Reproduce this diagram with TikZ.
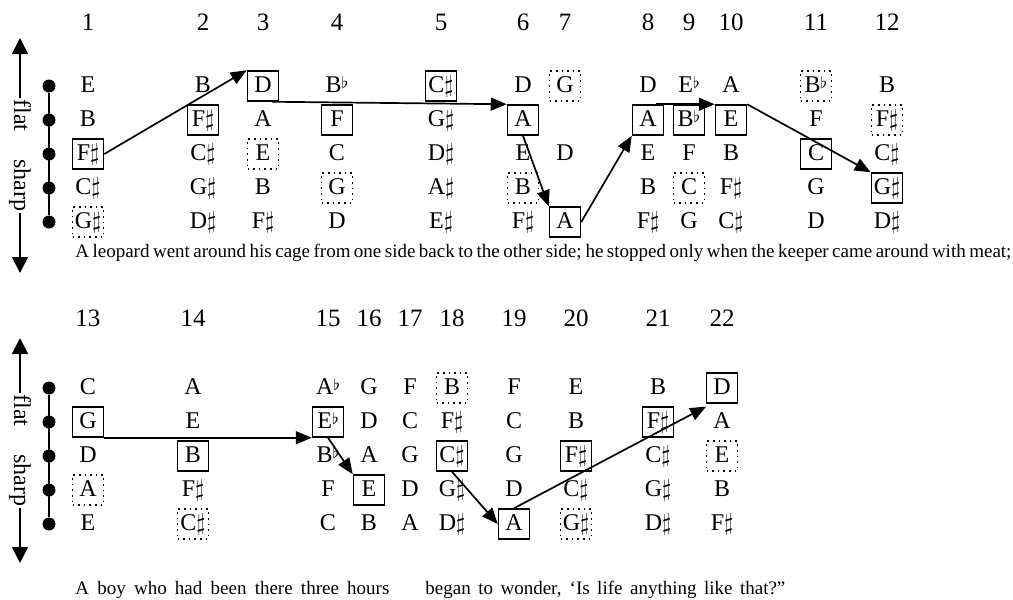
\documentclass[tikz,border=0pt]{standalone}
\usepackage{fontspec}
\setmainfont{Liberation Serif}
\usetikzlibrary{arrows.meta}
\newcommand{\shp}{$\sharp$}
\newcommand{\flt}{\raisebox{0.35ex}{$\scriptstyle\flat$}}
\tikzset{
  note/.style={inner sep=1pt, minimum width=15.5pt, minimum height=15pt, text height=8pt, text depth=1.5pt, font=\fontsize{12}{14}\selectfont},
  notebox/.style={note, draw, line width=0.75pt},
  notedot/.style={note, draw, dotted, line width=0.8pt},
  colnum/.style={font=\fontsize{12.5}{14}\selectfont},
  dot/.style={circle, fill, inner sep=0pt, minimum size=6.5pt},
  arr/.style={-{Triangle[length=8pt,width=6.5pt]}, line width=0.85pt},
  bigarr/.style={{Triangle[length=8pt,width=8pt]}-{Triangle[length=8pt,width=8pt]}, line width=0.85pt},
  sidelab/.style={fill=white, rotate=-90, inner sep=1pt, font=\fontsize{12}{14}\selectfont},
  words/.style={anchor=west, inner sep=0pt, font=\fontsize{9.5}{11}\selectfont}
}
\begin{document}
\begin{tikzpicture}[x=0.5pt,y=-0.5pt]
  \useasboundingbox (0,0) rectangle (1013,600);
  % upper system
  \foreach \x/\num/\col in {
      88/1/{E/note,B/note,F\shp/notebox,C\shp/note,G\shp/notedot},
      203/2/{B/note,F\shp/notebox,C\shp/note,G\shp/note,D\shp/note},
      263/3/{D/notebox,A/note,E/notedot,B/note,F\shp/note},
      337/4/{B\flt/note,F/notebox,C/note,G/notedot,D/note},
      441/5/{C\shp/notebox,G\shp/note,D\shp/note,A\shp/note,E\shp/note},
      523/6/{D/note,A/notebox,E/note,B/notedot,F\shp/note},
      648/8/{D/note,A/notebox,E/note,B/note,F\shp/note},
      689/9/{E\flt/note,B\flt/notebox,F/note,C/notedot,G/note},
      731/10/{A/note,E/notebox,B/note,F\shp/note,C\shp/note},
      816/11/{B\flt/notedot,F/note,C/notebox,G/note,D/note},
      887/12/{B/note,F\shp/notedot,C\shp/note,G\shp/notebox,D\shp/note}}
  {
    \node[colnum] (num\num) at (\x,22) {\num};
    \foreach \lab/\sty [count=\r] in \col
      \node[\sty] (c\num r\r) at (\x,52+34*\r) {\lab};
  }
  \node[colnum] (num7) at (565,22) {7};
  \node[notedot] (c7r1) at (565,86) {G};
  \node[note] (c7r3) at (565,154) {D};
  \node[notebox] (c7r5) at (565,222) {A};

  \foreach \r in {1,...,5}
    \node[dot] (t\r) at (49,52+34*\r) {};
  \draw [line width=0.85pt] (t1) -- (t5);
  \coordinate (tup) at (20,38);
  \coordinate (tdown) at (20,273);
  \draw [bigarr] (tup) -- node[sidelab] {flat\hspace{14pt}sharp} (tdown);

  \draw [arr] (c1r3.east) -- (c3r1.north west);
  \draw [arr] ([xshift=-3.5pt]c3r1.south east) -- (c6r2.north west);
  \draw [arr] (c6r2.south) -- (c7r5.north west);
  \draw [arr] (c7r5.east) -- (c8r2.south west);
  \draw [arr] ([xshift=-4pt]c8r2.north east) -- (c10r2.north west);
  \draw [arr] (c10r2.north east) -- (c12r4.north west);

  \node[words] (line1) at (75,253) {\makebox[468pt][s]{A leopard went around his cage from one side back to the other side; he stopped only when the keeper came around with meat;}};

  % lower system
  \foreach \x/\num/\col in {
      88/13/{C/note,G/notebox,D/note,A/notedot,E/note},
      193/14/{A/note,E/note,B/notebox,F\shp/note,C\shp/notedot},
      328/15/{A\flt/note,E\flt/notebox,B\flt/note,F/note,C/note},
      369/16/{G/note,D/note,A/note,E/notebox,B/note},
      410/17/{F/note,C/note,G/note,D/note,A/note},
      452/18/{B/notedot,F\shp/note,C\shp/notebox,G\shp/note,D\shp/note},
      514/19/{F/note,C/note,G/note,D/note,A/notebox},
      576/20/{E/note,B/note,F\shp/notebox,C\shp/note,G\shp/notedot},
      658/21/{B/note,F\shp/notebox,C\shp/note,G\shp/note,D\shp/note},
      722/22/{D/notebox,A/note,E/notedot,B/note,F\shp/note}}
  {
    \node[colnum] (num\num) at (\x,318) {\num};
    \foreach \lab/\sty [count=\r] in \col
      \node[\sty] (c\num r\r) at (\x,354+34*\r) {\lab};
  }

  \foreach \r in {1,...,5}
    \node[dot] (b\r) at (49,354+34*\r) {};
  \draw [line width=0.85pt] (b1) -- (b5);
  \coordinate (bup) at (20,338);
  \coordinate (bdown) at (20,563);
  \draw [bigarr] (bup) -- node[sidelab] {flat\hspace{14pt}sharp} (bdown);

  \draw [arr] (c13r2.south east) -- (c15r2.south west);
  \draw [arr] (c15r2.south) -- (c16r4.north west);
  \draw [arr] (c18r3.south) -- (c19r5.west);
  \draw [arr] (c19r5.north) -- (c22r2.north west);

  \node[words] (line2a) at (75,590) {\makebox[157pt][s]{A boy who had been there three hours}};
  \node[words] (line2b) at (425,590) {\makebox[180pt][s]{began to wonder, `Is life anything like that?''}};
\end{tikzpicture}
\end{document}
